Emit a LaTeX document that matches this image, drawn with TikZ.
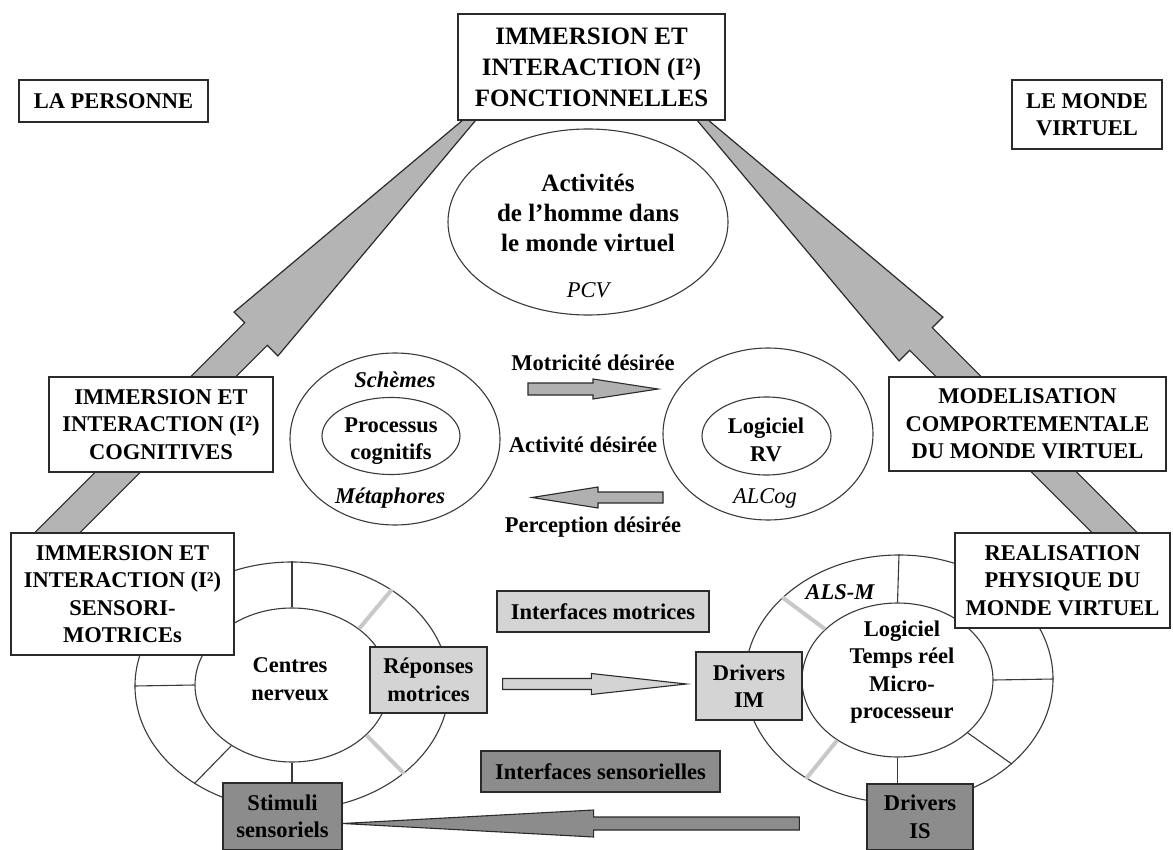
\documentclass[tikz,border=0pt]{standalone}
\usepackage{fontspec}
\setmainfont{Liberation Serif}
\usetikzlibrary{shapes.geometric,calc}
\definecolor{lineC}{HTML}{2A2A2A}
\definecolor{ellC}{HTML}{3A3A3A}
\definecolor{bigA}{HTML}{B4B4B4}
\definecolor{midA}{HTML}{B0B0B0}
\definecolor{lightG}{HTML}{D4D4D4}
\definecolor{darkG}{HTML}{8C8C8C}
\definecolor{spokeG}{HTML}{C8C8C8}
\newcommand\fbig{\fontsize{25}{31}\selectfont\bfseries}
\newcommand\fact{\fontsize{25}{30}\selectfont\bfseries}
\newcommand\fmid{\fontsize{22.5}{27.5}\selectfont\bfseries}
\newcommand\fbit{\fontsize{22.5}{27.5}\selectfont\bfseries\itshape}
\newcommand\fitl{\fontsize{22.5}{27.5}\selectfont\itshape}
% style, tail, tip, shaft half width, head half width, head length
\newcommand\blkarrow[6]{%
  \coordinate (hb) at ($(#3)!#6!(#2)$);
  \filldraw[#1] ($(#2)+(0,-#4)$) -- ($(hb)+(0,-#4)$) -- ($(hb)+(0,-#5)$) -- (#3)
     -- ($(hb)+(0,#5)$) -- ($(hb)+(0,#4)$) -- ($(#2)+(0,#4)$) -- cycle;}
\begin{document}
\begin{tikzpicture}[x=1pt,y=-1pt,
  box/.style={draw=lineC, line width=1.3pt, fill=white, inner sep=0pt, align=center, font=\fmid},
  lbox/.style={box, fill=lightG},
  dbox/.style={box, fill=darkG},
  ell/.style={draw=ellC, line width=1.1pt, ellipse, inner sep=0pt, fill=white},
  txt/.style={inner sep=0pt, align=center, font=\fmid},
  spoke/.style={draw=ellC, line width=1.1pt},
  gspoke/.style={draw=spokeG, line width=4pt},
  bigarrow/.style={draw=lineC, line width=1.2pt, fill=bigA, line join=miter},
  midarrow/.style={draw=lineC, line width=1.1pt, fill=midA},
  larrow/.style={draw=lineC, line width=1.1pt, fill=lightG},
  darrow/.style={draw=lineC, line width=1.1pt, fill=darkG}]
\useasboundingbox (0,0) rectangle (1173,850);
\fill[white] (0,0) rectangle (1173,850);

% big arrows
\begin{scope}[shift={(256,334)}, rotate=45]
  \filldraw[bigarrow] (-298,-16) -- (0,-16) -- (0,-31) -- (355,0) -- (0,31) -- (0,16) -- (-298,16) -- cycle;
\end{scope}
\begin{scope}[shift={(921,339)}, rotate=135]
  \filldraw[bigarrow] (-291,-16) -- (0,-16) -- (0,-31) -- (355,0) -- (0,31) -- (0,16) -- (-291,16) -- cycle;
\end{scope}

% top ellipse
\node[ell, minimum width=280, minimum height=186] (act) at (588,222) {};
\node[txt, font=\fact] (actt) at (588,213) {Activités\\de l’homme dans\\le monde virtuel};
\node[txt, font=\fitl] (pcv) at (588,290) {PCV};

% middle ellipses
\node[ell, minimum width=210, minimum height=172] (lo) at (395,439) {};
\node[ell, minimum width=138, minimum height=77] (li) at (391,436) {};
\node[txt] (proc) at (391,441) {Processus\\cognitifs};
\node[txt, font=\fbit] (sch) at (395,380) {Schèmes};
\node[txt, font=\fbit] (met) at (390,498) {Métaphores};

\node[ell, minimum width=210, minimum height=172] (ro) at (768,434) {};
\node[ell, minimum width=129, minimum height=78] (ri) at (766.5,436) {};
\node[txt] (logrv) at (766,440) {Logiciel\\RV};
\node[txt, font=\fitl] (alcog) at (765,498) {ALCog};

\node[txt] (motd) at (593,363) {Motricité désirée};
\node[txt] (actd) at (583,445) {Activité désirée};
\node[txt] (perd) at (593,527) {Perception désirée};
\coordinate (m1) at (528,389);
\coordinate (m2) at (658,389);
\blkarrow{midarrow}{m1}{m2}{6}{10}{65pt}
\coordinate (p1) at (663,497.5);
\coordinate (p2) at (532,497.5);
\blkarrow{midarrow}{p1}{p2}{5.5}{10.5}{66pt}

% left ring
\node[ell, minimum width=314, minimum height=248] (LRo) at (292,686) {};
\node[ell, minimum width=194, minimum height=154] (LRi) at (292,685) {};
\draw[spoke] (LRo.north) -- (LRi.north);
\draw[spoke] (LRo.west) -- (LRi.west);
\draw[spoke] (LRo.225) -- (LRi.225);
\draw[gspoke] (LRo.44) -- (LRi.40);
\draw[gspoke] (LRo.-38) -- (LRi.-34);
\node[txt] (cn) at (290,679) {Centres\\nerveux};

% right ring
\node[ell, minimum width=308, minimum height=248] (RRo) at (899,679) {};
\node[ell, minimum width=191, minimum height=154] (RRi) at (897.5,680) {};
\draw[spoke] (RRo.north) -- (RRi.north);
\draw[spoke] (RRo.east) -- (RRi.east);
\draw[spoke] (RRo.-37) -- (RRi.-37);
\draw[gspoke] (RRo.145) -- (RRi.145);
\draw[gspoke] (RRo.227) -- (RRi.225);
\node[txt] (ltr) at (902,672) {Logiciel\\Temps réel\\Micro-\\processeur};
\node[txt, font=\fbit] (alsm) at (840,592) {ALS-M};

% boxes
\node[box, minimum width=189, minimum height=42] (pers) at (113.5,101) {LA PERSONNE};
\node[box, minimum width=150, minimum height=69] (monde) at (1087,114.5) {LE MONDE\\VIRTUEL};
\node[box, font=\fbig, minimum width=267, minimum height=106] (top) at (591.5,67) {IMMERSION ET\\INTERACTION (I²)\\FONCTIONNELLES};
\node[box, minimum width=224, minimum height=95] (cog) at (161,424.5) {IMMERSION ET\\INTERACTION (I²)\\COGNITIVES};
\node[box, minimum width=223, minimum height=122] (sens) at (122.5,594) {IMMERSION ET\\INTERACTION (I²)\\SENSORI-\\MOTRICEs};
\node[box, minimum width=277, minimum height=94] (mod) at (1027.5,424) {MODELISATION\\COMPORTEMENTALE\\DU MONDE VIRTUEL};
\node[box, minimum width=215, minimum height=95] (real) at (1062.5,580.5) {REALISATION\\PHYSIQUE DU\\MONDE VIRTUEL};

\node[lbox, minimum width=212, minimum height=41] (imot) at (603,611.5) {Interfaces motrices};
\node[dbox, minimum width=239, minimum height=41] (isen) at (600.5,771.5) {Interfaces sensorielles};
\node[lbox, minimum width=117, minimum height=66] (rep) at (428.5,680) {Réponses\\motrices};
\node[lbox, minimum width=106, minimum height=68] (dim) at (749,686) {Drivers\\IM};
\node[dbox, minimum width=119, minimum height=67] (stim) at (282.5,816.5) {Stimuli\\sensoriels};
\node[dbox, minimum width=106, minimum height=66] (dis) at (920,817) {Drivers\\IS};

\draw[spoke] (LRi.south) -- (LRi.south |- stim.north);
\draw[spoke] (RRi.south) -- (RRi.south |- dis.north);

% lower block arrows
\coordinate (r1) at ($(rep.east)+(15,4)$);
\coordinate (r2) at ($(r1 -| dim.west)+(-9,0)$);
\blkarrow{larrow}{r1}{r2}{5.5}{10.5}{95pt}
\coordinate (s1) at ($(dis.west |- 0,823.5)+(-67,0)$);
\coordinate (s2) at (stim.east |- s1);
\blkarrow{darrow}{s1}{s2}{6.5}{13.5}{251pt}
\end{tikzpicture}
\end{document}
